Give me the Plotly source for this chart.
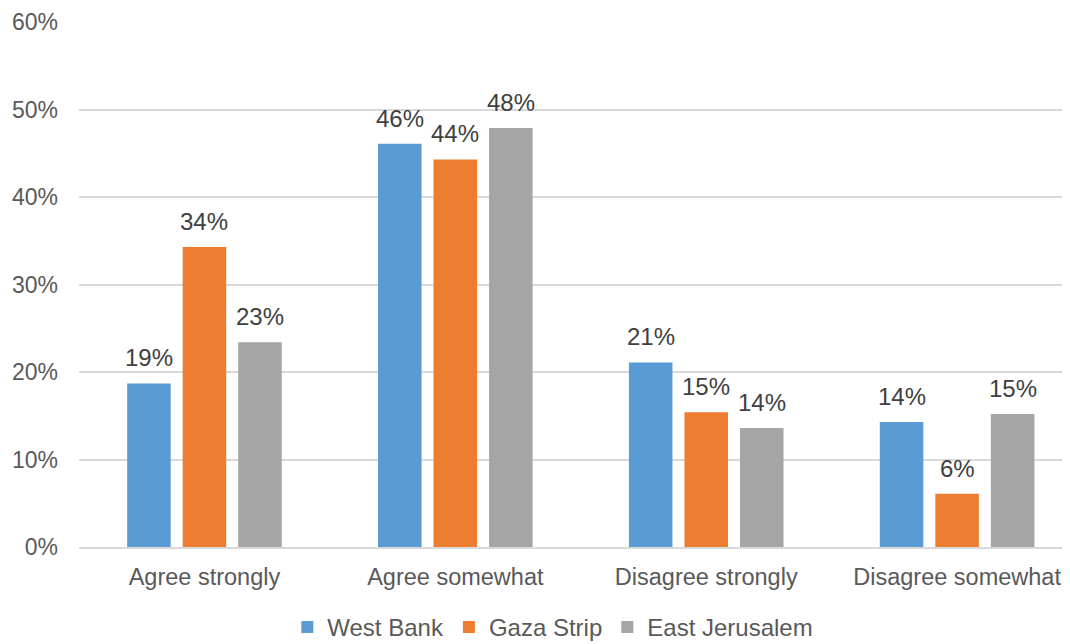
import plotly.graph_objects as go

categories = ["Agree strongly", "Agree somewhat", "Disagree strongly", "Disagree somewhat"]
west_bank = [0.187, 0.461, 0.211, 0.143]
gaza_strip = [0.343, 0.443, 0.154, 0.061]
east_jerusalem = [0.234, 0.479, 0.136, 0.152]

series = [
    ("West Bank", west_bank, "#5B9BD5"),
    ("Gaza Strip", gaza_strip, "#ED7D31"),
    ("East Jerusalem", east_jerusalem, "#A5A5A5"),
]

FONT = "Liberation Sans, Arial, sans-serif"

W, H = 1062, 636
ML, MR, MT, MB = 71, 0, 14, 97
XR = [-0.5, 3.45]
BARGAP, GROUPGAP = 0.336, 0.216

fig = go.Figure()
for name, vals, color in series:
    fig.add_trace(go.Bar(
        name=name, x=categories, y=vals,
        marker=dict(color=color, line=dict(width=0)),
        hoverinfo="x+y+name",
    ))

# data labels placed over the bars using the same grouping geometry
px_per_cat = (W - ML - MR) / (XR[1] - XR[0])
slot = px_per_cat * (1 - BARGAP) / len(series)
for i, (name, vals, color) in enumerate(series):
    for c, v in zip(categories, vals):
        fig.add_annotation(
            x=c, y=v, xref="x", yref="y",
            text=f"{v:.0%}", showarrow=False,
            xanchor="center", yanchor="bottom",
            xshift=(i - (len(series) - 1) / 2) * slot, yshift=10,
            font=dict(family=FONT, size=24, color="#404040"),
        )

fig.update_layout(
    width=W, height=H,
    margin=dict(l=ML, r=MR, t=MT, b=MB),
    paper_bgcolor="white", plot_bgcolor="white",
    barmode="group", bargap=BARGAP, bargroupgap=GROUPGAP,
    font=dict(family=FONT, color="#595959"),
    showlegend=True,
    legend=dict(
        orientation="h", xref="container", yref="container",
        x=0.513, xanchor="center", y=0.026, yanchor="middle",
        font=dict(family=FONT, size=24, color="#595959"),
        itemwidth=30, traceorder="normal",
    ),
)
fig.update_xaxes(
    range=XR, showgrid=False, showline=True, linecolor="#D9D9D9", linewidth=1.5,
    ticks="", tickfont=dict(family=FONT, size=23.5, color="#595959"), ticklabelstandoff=8,
)
fig.update_yaxes(
    range=[0, 0.6], dtick=0.1, tickformat=".0%", showgrid=True, gridcolor="#D9D9D9", gridwidth=1.5,
    zeroline=False, showline=False, ticks="",
    tickfont=dict(family=FONT, size=23, color="#595959"), ticklabelstandoff=20,
)

fig.write_html("out.html")
